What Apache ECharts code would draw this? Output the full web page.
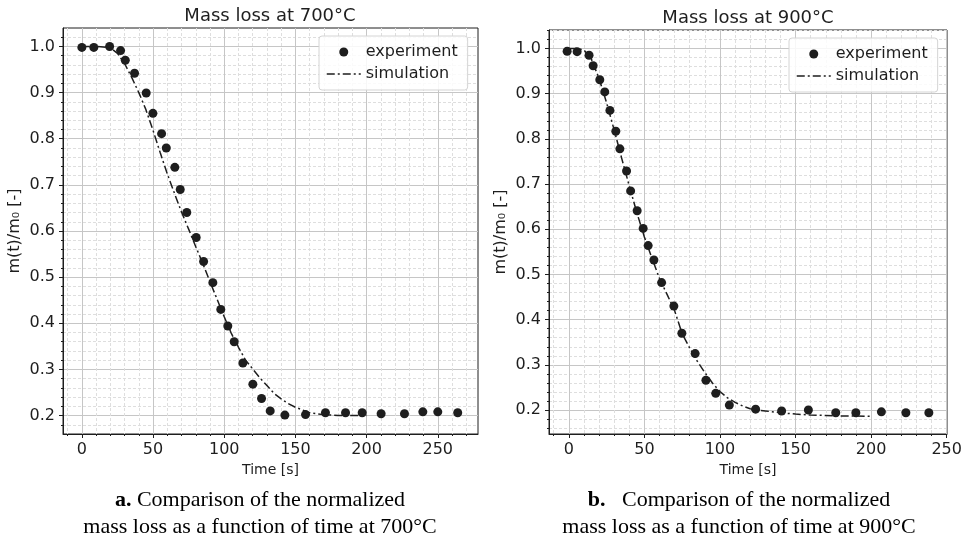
<!DOCTYPE html>
<html>
<head>
<meta charset="utf-8">
<script src="https://cdn.jsdelivr.net/npm/echarts@6/dist/echarts.min.js"></script>
<style>
  html, body { margin: 0; padding: 0; background: #fff; }
  #chart { width: 965px; height: 555px; }
</style>
</head>
<body>
<div id="chart"></div>
<script>
  // 700°C 实验点
  const exp700Time = [0, 8.4, 19.5, 27.2, 30.5, 37, 45.2, 49.9, 56, 59.3, 65.3, 69.1, 73.7, 80.3, 85.5, 92, 97.6,
    102.5, 107, 113.1, 120.1, 126.2, 132.3, 142.6, 157.1, 171.1, 185.2, 196.9, 210.2, 226.6, 239.5, 250, 264]
  const exp700Mass = [0.998, 0.998, 1.0, 0.991, 0.970, 0.942, 0.899, 0.855, 0.811, 0.780, 0.738, 0.690, 0.640, 0.586,
    0.534, 0.488, 0.430, 0.394, 0.360, 0.314, 0.268, 0.237, 0.210, 0.201, 0.202, 0.206, 0.206, 0.206, 0.204, 0.204,
    0.208, 0.208, 0.206]
  // 700°C 模拟曲线
  const sim700Time = [0, 10, 15, 20, 25, 30, 35, 40, 45, 50, 55, 60, 65, 70, 75, 80, 85, 90, 95, 100, 105, 110, 115,
    120, 125, 130, 135, 140, 145, 150, 155, 160, 170, 180, 190, 200]
  const sim700Mass = [1.0, 1.0, 0.999, 0.997, 0.985, 0.963, 0.933, 0.900, 0.863, 0.818, 0.770, 0.724, 0.682, 0.641,
    0.604, 0.566, 0.529, 0.490, 0.452, 0.414, 0.378, 0.348, 0.320, 0.301, 0.282, 0.265, 0.248, 0.236, 0.226, 0.218,
    0.212, 0.206, 0.202, 0.200, 0.200, 0.200]

  // 900°C 实验点
  const exp900Time = [-1.1, 5.5, 13.4, 16.1, 20.5, 23.8, 27.2, 31.1, 33.8, 38.2, 40.9, 45.2, 49.2, 52.5, 56.3, 61.4,
    69.5, 74.8, 83.6, 90.7, 97.2, 106.2, 123.6, 140.8, 158.5, 176.6, 189.9, 206.8, 223, 238.2]
  const exp900Mass = [0.994, 0.993, 0.985, 0.962, 0.931, 0.904, 0.863, 0.817, 0.778, 0.729, 0.685, 0.641, 0.602,
    0.564, 0.532, 0.482, 0.430, 0.370, 0.325, 0.266, 0.237, 0.211, 0.202, 0.198, 0.200, 0.194, 0.194, 0.196, 0.194,
    0.194]
  // 900°C 模拟曲线
  const sim900Time = [0, 5, 10, 15, 20, 25, 30, 35, 40, 45, 50, 55, 60, 65, 70, 75, 80, 85, 90, 95, 100, 105, 110,
    115, 120, 125, 130, 140, 150, 160, 170, 180, 190, 200]
  const sim900Mass = [1.0, 1.0, 0.997, 0.976, 0.934, 0.880, 0.820, 0.757, 0.696, 0.637, 0.583, 0.536, 0.491, 0.456,
    0.420, 0.369, 0.337, 0.308, 0.283, 0.260, 0.241, 0.227, 0.217, 0.209, 0.203, 0.200, 0.198, 0.194, 0.191, 0.189,
    0.188, 0.187, 0.187, 0.186]

  // 刻度
  const xTicks = [0, 50, 100, 150, 200, 250]
  const yTicks = [0.2, 0.3, 0.4, 0.5, 0.6, 0.7, 0.8, 0.9, 1.0]
  const seriesNames = ['experiment', 'simulation']

  const ink = '#1e1e1e'
  const font = 'DejaVu Sans'

  function pairs(xs, ys) {
    return xs.map((x, i) => [x, ys[i]])
  }

  // 次刻度：排除主刻度，只保留坐标范围以内的
  function minorValues(lo, hi, step, majors, min, max) {
    let out = []
    for (let v = lo; v <= hi + 1e-9; v += step) {
      let r = Math.round(v * 1000) / 1000
      if (majors.some(m => Math.abs(m - r) < 1e-6)) continue
      if (r > min + 1e-6 && r < max - 1e-6) out.push(r)
    }
    return out
  }

  function axesFor(gi, xMin, xMax, yMin, yMax) {
    let xMinor = minorValues(-20, 280, 10, xTicks, xMin, xMax)
    let yMinor = minorValues(0.14, 1.06, 0.02, yTicks, yMin, yMax)
    let tickStyle = { color: ink, width: 1 }
    let x = [{
      type: 'value', gridIndex: gi, min: xMin, max: xMax, position: 'bottom',
      axisLine: { show: true, onZero: false, lineStyle: tickStyle },
      axisTick: { show: true, length: 4, customValues: xTicks, lineStyle: tickStyle },
      axisLabel: { customValues: xTicks, margin: 8, color: ink, fontSize: 16, fontFamily: font },
      splitLine: { show: true, lineStyle: { color: '#c6c6c6', width: 1 } },
      name: 'Time [s]', nameLocation: 'middle', nameGap: 27,
      nameTextStyle: { color: ink, fontSize: 14, fontFamily: font }
    }, {
      type: 'value', gridIndex: gi, min: xMin, max: xMax, position: 'bottom',
      axisLine: { show: false, onZero: false },
      axisTick: { show: true, length: 2, customValues: xMinor, lineStyle: tickStyle },
      axisLabel: { show: false },
      splitLine: { show: true, lineStyle: { color: '#dedede', width: 1, type: [3, 2] } }
    }]
    let y = [{
      type: 'value', gridIndex: gi, min: yMin, max: yMax, position: 'left',
      axisLine: { show: true, onZero: false, lineStyle: tickStyle },
      axisTick: { show: true, length: 4, customValues: yTicks, lineStyle: tickStyle },
      axisLabel: {
        customValues: yTicks, margin: 8, color: ink, fontSize: 16, fontFamily: font,
        formatter: v => v.toFixed(1)
      },
      splitLine: { show: true, lineStyle: { color: '#c6c6c6', width: 1 } },
      name: 'm(t)/m\u2080 [-]', nameLocation: 'middle', nameGap: 40, nameRotate: 90,
      nameTextStyle: { color: ink, fontSize: 16, fontFamily: font }
    }, {
      type: 'value', gridIndex: gi, min: yMin, max: yMax, position: 'left',
      axisLine: { show: false, onZero: false },
      axisTick: { show: true, length: 2, customValues: yMinor, lineStyle: tickStyle },
      axisLabel: { show: false },
      splitLine: { show: true, lineStyle: { color: '#dedede', width: 1, type: [3, 2] } }
    }]
    return { x, y }
  }

  function seriesFor(axisIndex, expT, expM, simT, simM) {
    return [{
      type: 'scatter', name: seriesNames[0], xAxisIndex: axisIndex, yAxisIndex: axisIndex,
      data: pairs(expT, expM), symbolSize: 9, itemStyle: { color: ink, opacity: 1 }, z: 3
    }, {
      type: 'line', name: seriesNames[1], xAxisIndex: axisIndex, yAxisIndex: axisIndex,
      data: pairs(simT, simM), symbol: 'none', showSymbol: false, itemStyle: { color: ink },
      lineStyle: { color: ink, width: 1.5, type: [8, 3, 2, 3] }, z: 4
    }]
  }

  function legendAt(left, top) {
    return {
      left: left, top: top, orient: 'vertical', selectedMode: false,
      data: [seriesNames[0], { name: seriesNames[1], itemStyle: { opacity: 0 } }],
      itemWidth: 34, itemHeight: 9, itemGap: 6, padding: [8, 10, 8, 7],
      backgroundColor: 'rgba(255,255,255,0.85)', borderColor: '#d4d4d4', borderWidth: 1, borderRadius: 3,
      lineStyle: { width: 1.5 },
      textStyle: { color: ink, fontSize: 16, fontFamily: font }
    }
  }

  const a700 = axesFor(0, -13.25, 278.25, 0.16, 1.04)
  const a900 = axesFor(1, -13.1, 250.2, 0.147, 1.041)

  const captionStyle = {
    fontFamily: 'Liberation Serif', fontSize: 22, lineHeight: 27, color: '#000', fontWeight: 'normal',
    rich: { b: { fontFamily: 'Liberation Serif', fontSize: 22, lineHeight: 27, fontWeight: 'bold', color: '#000' } }
  }
  const titleStyle = { fontFamily: font, fontSize: 18, fontWeight: 'normal', color: ink }

  let chart = echarts.init(document.getElementById('chart'))
  chart.setOption({
    animation: false,
    backgroundColor: '#fff',
    title: [
      { text: 'Mass loss at 700°C', left: 270, top: 7, textAlign: 'center', padding: 0, textStyle: titleStyle },
      { text: 'Mass loss at 900°C', left: 748, top: 9, textAlign: 'center', padding: 0, textStyle: titleStyle },
      {
        text: '{b|a.} Comparison of the normalized\nmass loss as a function of time at 700°C',
        left: 260, top: 487, textAlign: 'center', padding: 0, textStyle: captionStyle
      },
      {
        text: '{b|b.}   Comparison of the normalized\nmass loss as a function of time at 900°C',
        left: 739, top: 487, textAlign: 'center', padding: 0, textStyle: captionStyle
      }
    ],
    legend: [legendAt(319, 36), legendAt(789, 38)],
    grid: [
      { left: 63, top: 28, width: 415, height: 406, show: true, borderColor: ink, borderWidth: 1, containLabel: false },
      { left: 549, top: 30, width: 398, height: 404, show: true, borderColor: ink, borderWidth: 1, containLabel: false }
    ],
    xAxis: a700.x.concat(a900.x),
    yAxis: a700.y.concat(a900.y),
    series: seriesFor(0, exp700Time, exp700Mass, sim700Time, sim700Mass)
      .concat(seriesFor(2, exp900Time, exp900Mass, sim900Time, sim900Mass))
  })
</script>
</body>
</html>
